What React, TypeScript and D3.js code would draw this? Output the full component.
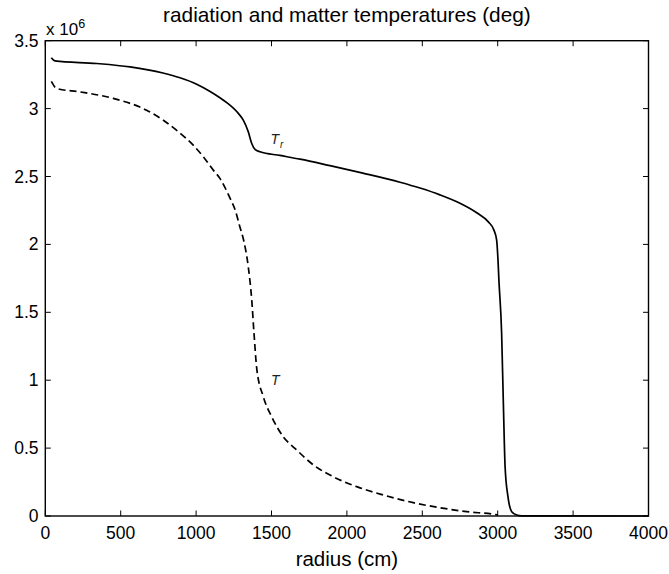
import React from "react";
import * as d3 from "d3";

const W = 669;
const H = 574;
const M = { left: 45.3, right: 648.5, top: 40.7, bottom: 516 };

const xTicks = [0, 500, 1000, 1500, 2000, 2500, 3000, 3500, 4000];
const yTicks = [0, 0.5, 1, 1.5, 2, 2.5, 3, 3.5];
const yTickLabels = ["0", "0.5", "1", "1.5", "2", "2.5", "3", "3.5"];

// radiation temperature T_r (units of 1e6 deg)
const trRadius = [40, 64, 341, 562, 780, 893, 1004, 1090, 1158, 1210, 1247, 1280, 1313, 1346, 1369, 1391, 1424, 1556, 1689, 1888, 2106, 2352, 2485, 2617, 2750, 2861, 2938, 2975, 2993, 3002, 3008, 3026, 3037, 3049, 3068, 3093, 3126, 3160, 4000];
const trTemp = [3.375, 3.351, 3.332, 3.307, 3.262, 3.227, 3.18, 3.128, 3.08, 3.038, 3.003, 2.965, 2.915, 2.829, 2.743, 2.699, 2.682, 2.655, 2.628, 2.58, 2.525, 2.458, 2.415, 2.365, 2.303, 2.233, 2.166, 2.105, 2.032, 1.884, 1.737, 1.347, 0.854, 0.363, 0.142, 0.032, 0.007, 0.001, 0.0];

// matter temperature T (units of 1e6 deg)
const tRadius = [40, 76, 230, 451, 672, 893, 981, 1048, 1114, 1158, 1225, 1260, 1290, 1315, 1346, 1369, 1384, 1402, 1446, 1501, 1578, 1667, 1779, 1910, 2065, 2241, 2440, 2617, 2794, 2971, 3000];
const tTemp = [3.2, 3.148, 3.123, 3.075, 2.988, 2.82, 2.731, 2.645, 2.547, 2.486, 2.34, 2.25, 2.13, 2.032, 1.835, 1.59, 1.345, 1.087, 0.878, 0.731, 0.584, 0.486, 0.375, 0.289, 0.216, 0.155, 0.098, 0.061, 0.032, 0.013, 0.008];

const FONT = "'Liberation Sans', Arial, Helvetica, sans-serif";

export default function App() {
  const x = d3.scaleLinear().domain([0, 4000]).range([M.left, M.right]);
  const y = d3.scaleLinear().domain([0, 3.5]).range([M.bottom, M.top]);
  const line = d3
    .line<[number, number]>()
    .x((d) => x(d[0]))
    .y((d) => y(d[1]))
    .curve(d3.curveMonotoneX);
  const trPts = trRadius.map((r, i) => [r, trTemp[i]] as [number, number]);
  const tPts = tRadius.map((r, i) => [r, tTemp[i]] as [number, number]);
  const tl = 5.5;

  return (
    <svg
      width={W}
      height={H}
      style={{ position: "absolute", left: 0, top: 0, background: "#fff" }}
      fontFamily={FONT}
    >
      <rect x={0} y={0} width={W} height={H} fill="#fff" />
      {xTicks.map((t) => (
        <g key={"xt" + t}>
          <line x1={x(t)} x2={x(t)} y1={M.bottom} y2={M.bottom - tl} stroke="#000" strokeWidth={1} />
          <line x1={x(t)} x2={x(t)} y1={M.top} y2={M.top + tl} stroke="#000" strokeWidth={1} />
          <text x={x(t)} y={538.5} textAnchor="middle" fontSize={17.5} fill="#000">
            {t}
          </text>
        </g>
      ))}
      {yTicks.map((t, i) => (
        <g key={"yt" + t}>
          <line x1={M.left} x2={M.left + tl} y1={y(t)} y2={y(t)} stroke="#000" strokeWidth={1} />
          <line x1={M.right} x2={M.right - tl} y1={y(t)} y2={y(t)} stroke="#000" strokeWidth={1} />
          <text x={38.5} y={y(t) + 6} textAnchor="end" fontSize={17.5} fill="#000">
            {yTickLabels[i]}
          </text>
        </g>
      ))}
      <path d={line(trPts) || ""} fill="none" stroke="#000" strokeWidth={1.7} />
      <path d={line(tPts) || ""} fill="none" stroke="#000" strokeWidth={1.7} strokeDasharray="7,4" />
      <rect
        x={M.left}
        y={M.top}
        width={M.right - M.left}
        height={M.bottom - M.top}
        fill="none"
        stroke="#000"
        strokeWidth={1.4}
      />
      <text x={270.5} y={143.5} fontSize={14} fontStyle="italic" fill="#222">
        T
        <tspan fontSize={10} dx={1} dy={4}>r</tspan>
      </text>
      <text x={271} y={385} fontSize={14} fontStyle="italic" fill="#222">
        T
      </text>
      <text x={46} y={35} fontSize={17} fill="#000">
        x 10
        <tspan fontSize={12.5} dy={-7}>6</tspan>
      </text>
      <text x={(M.left + M.right) / 2} y={21.7} textAnchor="middle" fontSize={20.8} fill="#000">
        radiation and matter temperatures (deg)
      </text>
      <text x={(M.left + M.right) / 2} y={566} textAnchor="middle" fontSize={20.5} fill="#000">
        radius (cm)
      </text>
    </svg>
  );
}
